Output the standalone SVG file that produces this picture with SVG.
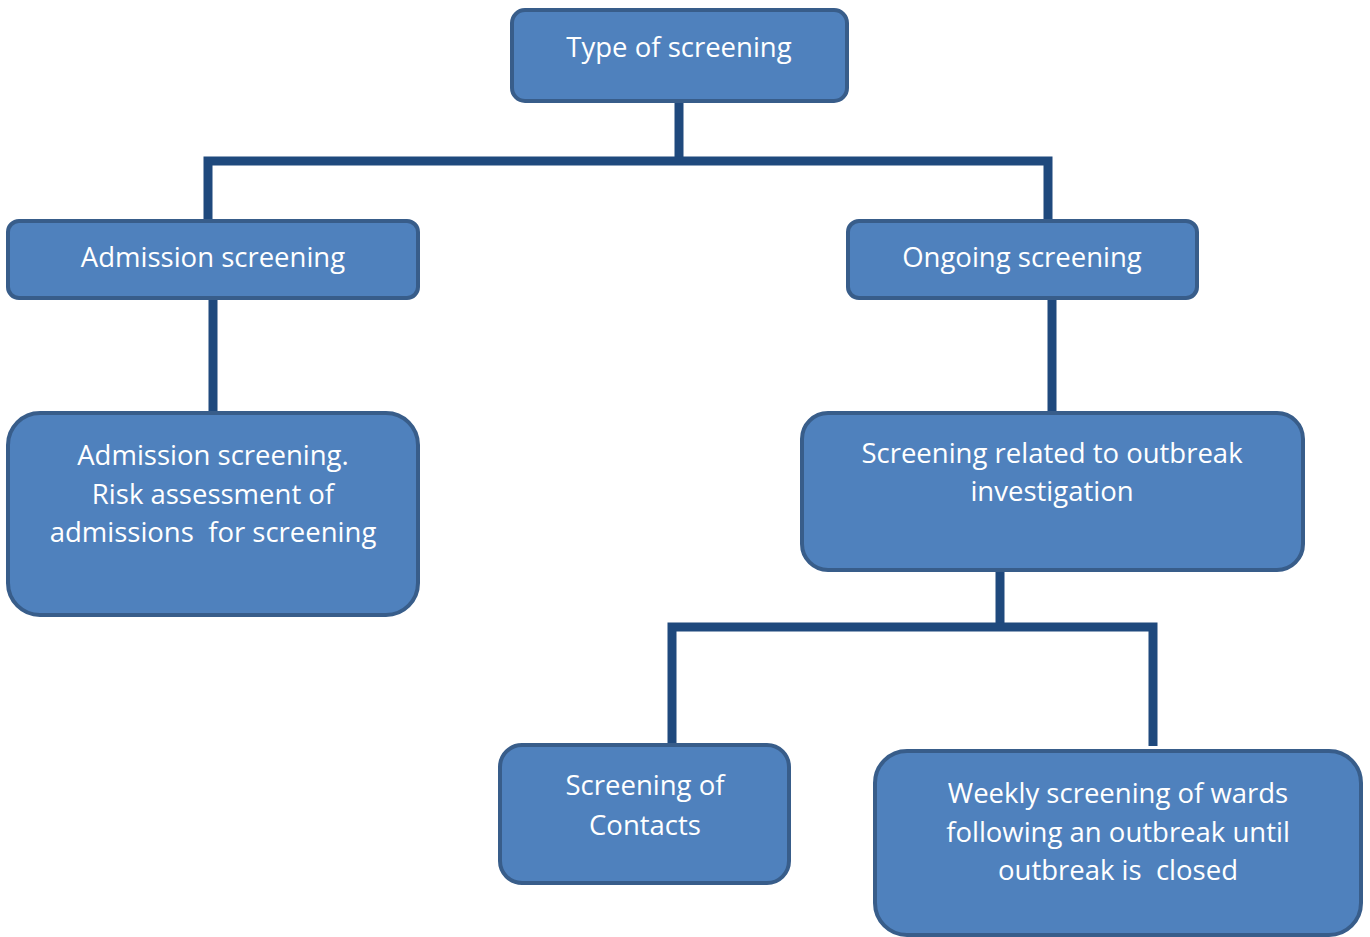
<svg xmlns="http://www.w3.org/2000/svg" width="1370" height="937" viewBox="0 0 1370 937">
<style>
.box{fill:#4F81BD;stroke:#385D8A;stroke-width:4}
.lbl{font-family:"Open Sans","Noto Sans",sans-serif;font-size:27.5px;fill:#FFFFFF;text-anchor:middle;white-space:pre}
.con{fill:none;stroke:#1F497D;stroke-width:9;stroke-linejoin:miter;stroke-linecap:butt}
</style>
<rect width="1370" height="937" fill="#FFFFFF"/>
<g id="connectors">
<path class="con" d="M679,101 V161"/>
<path class="con" d="M208,221 V161 H1048 V221"/>
<path class="con" d="M213,298 V413"/>
<path class="con" d="M1052,298 V413"/>
<path class="con" d="M1000,570 V627"/>
<path class="con" d="M672,745 V627 H1153 V746"/>
</g>
<g id="n-type">
<rect class="box" x="512" y="10" width="335" height="91" rx="13"/>
<text class="lbl" x="679" y="57">Type of screening</text>
</g>
<g id="n-admission">
<rect class="box" x="8" y="221" width="410" height="77" rx="11"/>
<text class="lbl" x="213" y="267">Admission screening</text>
</g>
<g id="n-ongoing">
<rect class="box" x="848" y="221" width="349" height="77" rx="11"/>
<text class="lbl" x="1022" y="267">Ongoing screening</text>
</g>
<g id="n-admission-detail">
<rect class="box" x="8" y="413" width="410" height="202" rx="32"/>
<text class="lbl" x="213" y="465">Admission screening.</text>
<text class="lbl" x="213" y="504">Risk assessment of</text>
<text class="lbl" x="213" y="542" xml:space="preserve">admissions  for screening</text>
</g>
<g id="n-outbreak">
<rect class="box" x="802" y="413" width="501" height="157" rx="26"/>
<text class="lbl" x="1052" y="463">Screening related to outbreak</text>
<text class="lbl" x="1052" y="501">investigation</text>
</g>
<g id="n-contacts">
<rect class="box" x="500" y="745" width="289" height="138" rx="22"/>
<text class="lbl" x="645" y="795">Screening of</text>
<text class="lbl" x="645" y="835">Contacts</text>
</g>
<g id="n-weekly">
<rect class="box" x="875" y="751" width="486" height="184" rx="32"/>
<text class="lbl" x="1118" y="803">Weekly screening of wards</text>
<text class="lbl" x="1118" y="842">following an outbreak until</text>
<text class="lbl" x="1118" y="880" xml:space="preserve">outbreak is  closed</text>
</g>
</svg>
